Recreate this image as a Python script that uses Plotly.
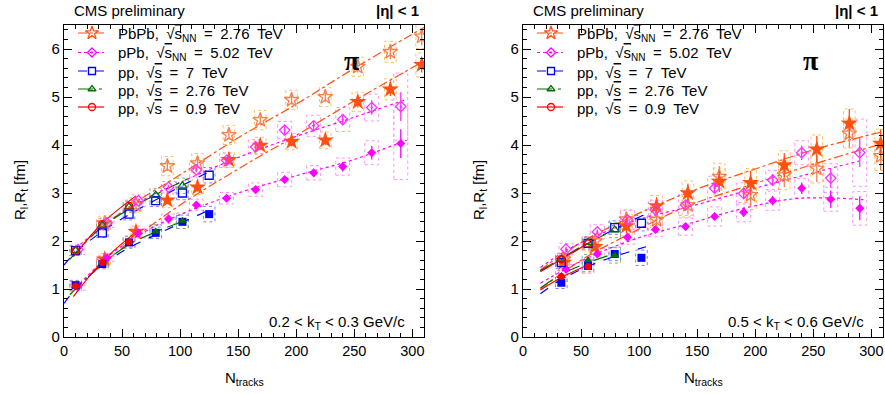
import plotly.graph_objects as go

# ---------------- data ----------------
N_PBPB = [35, 62, 89, 115, 142, 169, 196, 225, 253, 281, 308]
N_PPB_L = [12, 37, 64, 90, 114, 140, 165, 190, 215, 240, 265, 290]
N_PPB_R = [37, 64, 90, 114, 140, 165, 190, 215, 240, 265, 290]
N_PP7_L = [10, 33, 56, 79, 102, 125]
N_PP276_L = [10, 33, 56, 79, 102]
N_PP09_L = [10, 33, 56]
N_PP7_R = [33, 56, 79, 102]
N_PP276_R = [33, 56, 79]
N_PP09_R = [33, 56]

# left panel: 0.2 < kT < 0.3 GeV/c
L_PBPB_RL = [2.37, 2.75, 3.56, 3.62, 4.21, 4.52, 4.94, 5.00, 5.63, 5.94, 6.26]
L_PBPB_RT = [1.62, 2.19, 2.85, 3.12, 3.69, 3.99, 4.07, 4.10, 4.90, 5.16, 5.67]
L_PBPB_RL_STAT = [0.08, 0.08, 0.10, 0.10, 0.10, 0.10, 0.10, 0.10, 0.12, 0.15, 0.18]
L_PBPB_RT_STAT = [0.06, 0.07, 0.08, 0.09, 0.09, 0.10, 0.10, 0.10, 0.12, 0.14, 0.16]
L_PBPB_RL_SYS = [0.15, 0.15, 0.20, 0.20, 0.20, 0.20, 0.20, 0.20, 0.20, 0.22, 0.25]
L_PBPB_RT_SYS = [0.12, 0.12, 0.15, 0.15, 0.15, 0.17, 0.17, 0.17, 0.20, 0.22, 0.25]

L_PPB_RL = [1.82, 2.38, 2.84, 3.12, 3.48, 3.68, 3.96, 4.31, 4.40, 4.53, 4.78, 4.80]
L_PPB_RT = [1.05, 1.65, 2.16, 2.46, 2.75, 2.89, 3.07, 3.28, 3.42, 3.55, 3.84, 4.03]
L_PPB_RL_STAT = [0.03, 0.03, 0.04, 0.05, 0.05, 0.06, 0.06, 0.08, 0.10, 0.12, 0.15, 0.30]
L_PPB_RT_STAT = [0.03, 0.03, 0.04, 0.04, 0.05, 0.05, 0.06, 0.07, 0.08, 0.10, 0.14, 0.30]
L_PPB_RL_SYS = [0.10, 0.10, 0.12, 0.12, 0.15, 0.15, 0.15, 0.18, 0.22, 0.25, 0.28, 0.70]
L_PPB_RT_SYS = [0.08, 0.08, 0.10, 0.10, 0.12, 0.12, 0.14, 0.15, 0.15, 0.18, 0.25, 0.75]

L_PP7_RL = [1.80, 2.17, 2.56, 2.84, 3.00, 3.37]
L_PP7_RT = [1.08, 1.52, 1.97, 2.17, 2.40, 2.56]
L_PP7_SYS = [0.10, 0.10, 0.12, 0.12, 0.14, 0.16]
L_PP276_RL = [1.80, 2.33, 2.71, 2.95, 3.15]
L_PP276_RT = [1.06, 1.55, 1.98, 2.20, 2.42]
L_PP276_SYS = [0.10, 0.10, 0.12, 0.14, 0.16]
L_PP09_RL = [1.80, 2.35, 2.73]
L_PP09_RT = [1.06, 1.55, 1.98]
L_PP09_SYS = [0.10, 0.12, 0.12]

# right panel: 0.5 < kT < 0.6 GeV/c
R_PBPB_RL = [1.62, 2.00, 2.45, 2.44, 2.75, 3.34, 2.96, 3.37, 3.51, 4.24, 3.77]
R_PBPB_RT = [1.55, 1.88, 2.31, 2.73, 3.00, 3.24, 3.21, 3.58, 3.91, 4.45, 4.03]
R_PBPB_RL_STAT = [0.08, 0.10, 0.15, 0.18, 0.20, 0.22, 0.25, 0.25, 0.28, 0.30, 0.30]
R_PBPB_RT_STAT = [0.08, 0.10, 0.15, 0.18, 0.20, 0.22, 0.25, 0.25, 0.28, 0.30, 0.30]
R_PBPB_RL_SYS = [0.12, 0.15, 0.20, 0.22, 0.25, 0.28, 0.30, 0.30, 0.30, 0.30, 0.30]
R_PBPB_RT_SYS = [0.12, 0.15, 0.20, 0.22, 0.25, 0.28, 0.30, 0.30, 0.30, 0.30, 0.30]

R_PPB_RL = [1.83, 2.19, 2.44, 2.65, 2.75, 3.10, 2.99, 3.27, 3.84, 3.31, 3.84]
R_PPB_RT = [1.41, 1.73, 2.08, 2.24, 2.30, 2.51, 2.60, 2.84, 3.10, 2.87, 2.68]
R_PPB_RL_STAT = [0.05, 0.05, 0.06, 0.07, 0.08, 0.10, 0.12, 0.12, 0.15, 0.20, 0.30]
R_PPB_RT_STAT = [0.04, 0.05, 0.06, 0.06, 0.07, 0.08, 0.10, 0.10, 0.12, 0.18, 0.25]
R_PPB_RL_SYS = [0.12, 0.15, 0.20, 0.20, 0.22, 0.25, 0.22, 0.20, 0.25, 0.30, 0.70]
R_PPB_RT_SYS = [0.10, 0.12, 0.15, 0.15, 0.18, 0.20, 0.20, 0.20, 0.20, 0.25, 0.35]

R_PP7_RL = [1.55, 1.95, 2.28, 2.37]
R_PP7_RT = [1.13, 1.48, 1.73, 1.65]
R_PP7_SYS = [0.12, 0.12, 0.14, 0.16]
R_PP276_RL = [1.62, 1.97, 2.23]
R_PP276_RT = [1.27, 1.60, 1.70]
R_PP276_SYS = [0.12, 0.12, 0.16]
R_PP09_RL = [1.62, 1.95]
R_PP09_RT = [1.26, 1.47]
R_PP09_SYS = [0.12, 0.14]

# fit curves (N, R)
L_FIT_PBPB_L = ([30, 60, 100, 150, 200, 250, 310], [2.25, 2.78, 3.38, 4.15, 4.85, 5.60, 6.45])
L_FIT_PBPB_T = ([25, 60, 100, 150, 200, 250, 310], [1.35, 2.05, 2.75, 3.50, 4.20, 4.92, 5.75])
L_FIT_PPB_L = ([10, 40, 70, 100, 150, 200, 250, 295], [1.85, 2.42, 2.88, 3.22, 3.74, 4.18, 4.58, 4.95])
L_FIT_PPB_T = ([10, 40, 70, 100, 150, 200, 250, 295], [1.02, 1.72, 2.20, 2.55, 3.00, 3.36, 3.70, 4.10])
L_FIT_PP7_L = ([0, 10, 33, 56, 80, 103, 128], [1.50, 1.76, 2.20, 2.55, 2.87, 3.17, 3.48])
L_FIT_PP7_T = ([0, 10, 33, 56, 80, 103, 123], [0.70, 1.00, 1.50, 1.86, 2.14, 2.40, 2.62])
L_FIT_PP276_L = ([5, 33, 56, 80, 107], [1.62, 2.30, 2.66, 2.98, 3.30])
L_FIT_PP276_T = ([5, 33, 56, 80, 107], [0.88, 1.52, 1.93, 2.20, 2.45])
L_FIT_PP09_L = ([8, 33, 62], [1.67, 2.37, 2.94])
L_FIT_PP09_T = ([8, 33, 62], [0.84, 1.57, 2.19])

R_FIT_PBPB_L = ([15, 50, 100, 144, 200, 250, 310], [1.40, 1.97, 2.58, 3.03, 3.50, 3.90, 4.28])
R_FIT_PBPB_T = ([15, 50, 100, 144, 200, 250, 310], [1.00, 1.60, 2.25, 2.75, 3.20, 3.60, 4.03])
R_FIT_PPB_L = ([15, 37, 64, 100, 144, 200, 250, 290], [1.45, 1.80, 2.12, 2.45, 2.72, 3.10, 3.42, 3.67])
R_FIT_PPB_T = ([15, 37, 64, 100, 144, 190, 230, 260, 293], [1.12, 1.42, 1.74, 2.07, 2.37, 2.68, 2.87, 2.90, 2.86])
R_FIT_PP7_L = ([15, 33, 56, 79, 109], [1.38, 1.62, 1.95, 2.25, 2.60])
R_FIT_PP7_T = ([15, 33, 56, 79, 106], [0.90, 1.20, 1.47, 1.68, 1.88])
R_FIT_PP276_L = ([15, 33, 56, 85], [1.38, 1.64, 1.96, 2.30])
R_FIT_PP276_T = ([15, 33, 56, 85], [1.02, 1.30, 1.55, 1.78])
R_FIT_PP09_L = ([15, 33, 58], [1.36, 1.62, 1.98])
R_FIT_PP09_T = ([15, 33, 58], [0.98, 1.24, 1.52])

SP = "\u2002"  # en space (ROOT-like wide spacing)
OVS = "√<span style='text-decoration:overline'>s</span>"
SUBNN = "<sub><span style='font-size:10px'>NN</span></sub>"
LEGEND_NAMES = [
    f"PbPb,{SP}{OVS}{SUBNN}{SP}={SP}2.76{SP}TeV",
    f"pPb,{SP}{OVS}{SUBNN}{SP}={SP}5.02{SP}TeV",
    f"pp,{SP}{OVS}{SP}={SP}7{SP}TeV",
    f"pp,{SP}{OVS}{SP}={SP}2.76{SP}TeV",
    f"pp,{SP}{OVS}{SP}={SP}0.9{SP}TeV",
]
KT_LABELS = ["0.2 < k<sub>T</sub> < 0.3 GeV/c", "0.5 < k<sub>T</sub> < 0.6 GeV/c"]

# ---------------- styles ----------------
FONT = "Liberation Sans, Arial, sans-serif"
STY = {
    "PbPb": dict(c="#ff5010", co="#f5804a", box="#ffc060", dash="dashdot", so="star-open", sf="star", sz=11, lsz=10, hw=5),
    "pPb": dict(c="#ff00ff", co="#ff30ff", box="#ff90ff", dash="dot", so="diamond-open-dot", sf="diamond", sz=8, lsz=7, hw=6),
    "pp7": dict(c="#0000ff", co="#0000ff", box="#7f7fff", dash="dash", so="square-open", sf="square", sz=8, lsz=7, hw=5),
    "pp276": dict(c="#007000", co="#007000", box="#80b080", dash="longdashdot", so="triangle-up-open", sf="triangle-up", sz=8, lsz=7, hw=5),
    "pp09": dict(c="#ff0000", co="#ff0000", box="#ff9090", dash="solid", so="circle-open", sf="circle", sz=7, lsz=7, hw=5),
}
ORDER = ["PbPb", "pPb", "pp7", "pp276", "pp09"]

PANELS = [
    dict(xa="x", ya="y", series={
        "PbPb": (N_PBPB, L_PBPB_RL, L_PBPB_RL_STAT, L_PBPB_RL_SYS, L_PBPB_RT, L_PBPB_RT_STAT, L_PBPB_RT_SYS, L_FIT_PBPB_L, L_FIT_PBPB_T),
        "pPb": (N_PPB_L, L_PPB_RL, L_PPB_RL_STAT, L_PPB_RL_SYS, L_PPB_RT, L_PPB_RT_STAT, L_PPB_RT_SYS, L_FIT_PPB_L, L_FIT_PPB_T),
        "pp7": (N_PP7_L, L_PP7_RL, None, L_PP7_SYS, L_PP7_RT, None, L_PP7_SYS, L_FIT_PP7_L, L_FIT_PP7_T),
        "pp276": (N_PP276_L, L_PP276_RL, None, L_PP276_SYS, L_PP276_RT, None, L_PP276_SYS, L_FIT_PP276_L, L_FIT_PP276_T),
        "pp09": (N_PP09_L, L_PP09_RL, None, L_PP09_SYS, L_PP09_RT, None, L_PP09_SYS, L_FIT_PP09_L, L_FIT_PP09_T),
    }),
    dict(xa="x2", ya="y2", series={
        "PbPb": (N_PBPB, R_PBPB_RL, R_PBPB_RL_STAT, R_PBPB_RL_SYS, R_PBPB_RT, R_PBPB_RT_STAT, R_PBPB_RT_SYS, R_FIT_PBPB_L, R_FIT_PBPB_T),
        "pPb": (N_PPB_R, R_PPB_RL, R_PPB_RL_STAT, R_PPB_RL_SYS, R_PPB_RT, R_PPB_RT_STAT, R_PPB_RT_SYS, R_FIT_PPB_L, R_FIT_PPB_T),
        "pp7": (N_PP7_R, R_PP7_RL, None, R_PP7_SYS, R_PP7_RT, None, R_PP7_SYS, R_FIT_PP7_L, R_FIT_PP7_T),
        "pp276": (N_PP276_R, R_PP276_RL, None, R_PP276_SYS, R_PP276_RT, None, R_PP276_SYS, R_FIT_PP276_L, R_FIT_PP276_T),
        "pp09": (N_PP09_R, R_PP09_RL, None, R_PP09_SYS, R_PP09_RT, None, R_PP09_SYS, R_FIT_PP09_L, R_FIT_PP09_T),
    }),
]

# ---------------- layout geometry (pixels) ----------------
W, H = 885, 394
L, R, T, B = 64, 2, 25, 57
PW = W - L - R
PH = H - T - B
PANEL_PX = ((64, 424), (523, 883))
LEG_ROWS_Y = [33, 52.5, 71, 89, 107]


def px(xpix):
    return (xpix - L) / PW


def py(ypix):
    return (H - B - ypix) / PH


fig = go.Figure()
shapes = []
ann = []

for pi, p in enumerate(PANELS):
    xa, ya = p["xa"], p["ya"]
    # systematic boxes
    for k in ORDER:
        s = STY[k]
        n, rl, rls, rlsys, rt, rts, rtsys, fl, ft = p["series"][k]
        for vals, sys in ((rl, rlsys), (rt, rtsys)):
            for xi, yi, ei in zip(n, vals, sys):
                shapes.append(dict(type="rect", xref=xa, yref=ya, x0=xi - s["hw"], x1=xi + s["hw"],
                                   y0=yi - ei, y1=yi + ei, layer="below",
                                   line=dict(color=s["box"], width=1, dash="dot")))
    # fit lines
    for k in ORDER:
        s = STY[k]
        n, rl, rls, rlsys, rt, rts, rtsys, fl, ft = p["series"][k]
        for fx, fy in (fl, ft):
            fig.add_trace(go.Scatter(x=fx, y=fy, mode="lines",
                                     line=dict(color=s["c"], dash=s["dash"], width=1.2, shape="spline"),
                                     xaxis=xa, yaxis=ya, showlegend=False, hoverinfo="skip"))
    # markers
    for k in ORDER:
        s = STY[k]
        n, rl, rls, rlsys, rt, rts, rtsys, fl, ft = p["series"][k]
        fig.add_trace(go.Scatter(
            x=n, y=rl, mode="markers", showlegend=False, xaxis=xa, yaxis=ya,
            marker=dict(symbol=s["so"], color=s["co"], size=s["sz"], line=dict(width=1.3, color=s["co"])),
            error_y=dict(type="data", array=rls, color=s["co"], thickness=1.3, width=0) if rls else None))
        fig.add_trace(go.Scatter(
            x=n, y=rt, mode="markers", showlegend=False, xaxis=xa, yaxis=ya,
            marker=dict(symbol=s["sf"], color=s["c"], size=s["sz"] + (2 if k == "PbPb" else 0) - (1 if k == "pPb" else 0),
                        line=dict(width=0)),
            error_y=dict(type="data", array=rts, color=s["c"], thickness=1.3, width=0) if rts else None))

    # custom legend (pixel overlay axis x3/y3)
    x0, x1 = PANEL_PX[pi]
    for k, name, yrow in zip(ORDER, LEGEND_NAMES, LEG_ROWS_Y):
        s = STY[k]
        fig.add_trace(go.Scatter(x=[x0 + 14, x0 + 40], y=[yrow, yrow], mode="lines",
                                 line=dict(color=s["c"], dash=s["dash"], width=1.2),
                                 xaxis="x3", yaxis="y3", showlegend=False, hoverinfo="skip", cliponaxis=False))
        fig.add_trace(go.Scatter(x=[x0 + 28], y=[yrow], mode="markers",
                                 marker=dict(symbol=s["so"], color=s["c"], size=s["lsz"], line=dict(width=1.3, color=s["c"])),
                                 xaxis="x3", yaxis="y3", showlegend=False, hoverinfo="skip", cliponaxis=False))
        ann.append(dict(text=name, xref="paper", yref="paper", x=px(x0 + 52), y=py(yrow + 1),
                        xanchor="left", yanchor="middle", showarrow=False,
                        font=dict(family=FONT, size=15, color="black")))

axis_common = dict(range=[0, 310], showline=True, linecolor="black", linewidth=1.2, mirror="ticks",
                   ticks="inside", ticklen=8, tickcolor="black", dtick=50, tick0=0,
                   minor=dict(ticks="inside", ticklen=4, dtick=10, tickcolor="black"),
                   showgrid=False, zeroline=False, ticklabeloverflow="allow",
                   tickfont=dict(family=FONT, size=14.5, color="black"))
yaxis_common = dict(range=[0, 6.5], showline=True, linecolor="black", linewidth=1.2, mirror="ticks",
                    ticks="inside", ticklen=8, tickcolor="black", dtick=1, tick0=0,
                    minor=dict(ticks="inside", ticklen=4, dtick=0.2, tickcolor="black"),
                    showgrid=False, zeroline=False, tickfont=dict(family=FONT, size=15, color="black"))

xa1 = dict(axis_common); xa1.update(domain=[0, px(PANEL_PX[0][1])], anchor="y")
xa2 = dict(axis_common); xa2.update(domain=[px(PANEL_PX[1][0]), 1.0], anchor="y2")
ya1 = dict(yaxis_common); ya1.update(domain=[0, 1], anchor="x")
ya2 = dict(yaxis_common); ya2.update(domain=[0, 1], anchor="x2")
xa3 = dict(domain=[0, 1], range=[L, W - R], visible=False, anchor="y3", fixedrange=True)
ya3 = dict(domain=[0, 1], range=[H - B, T], visible=False, anchor="x3", fixedrange=True)

for i, (x0, x1) in enumerate(PANEL_PX):
    xr = "x" if i == 0 else "x2"
    ann.append(dict(text="CMS preliminary", xref="paper", yref="paper", x=px(x0 + 8), y=py(11),
                    xanchor="left", yanchor="middle", showarrow=False, font=dict(family=FONT, size=15, color="black")))
    ann.append(dict(text="<b>|η| < 1</b>", xref="paper", yref="paper", x=px(x1 - 3), y=py(11),
                    xanchor="right", yanchor="middle", showarrow=False, font=dict(family=FONT, size=15, color="black")))
    ann.append(dict(text=KT_LABELS[i], xref="paper", yref="paper", x=px(x1 - 17), y=py(322),
                    xanchor="right", yanchor="middle", showarrow=False, font=dict(family=FONT, size=15, color="black")))
    ann.append(dict(text="<b>π</b>", xref=xr, yref="y" if i == 0 else "y2", x=248, y=5.77,
                    xanchor="center", yanchor="middle", showarrow=False,
                    font=dict(family="Liberation Serif, DejaVu Serif, serif", size=28, color="black")))
    ann.append(dict(text="N<sub>tracks</sub>", xref="paper", yref="paper", x=px((x0 + x1) / 2), y=py(378),
                    xanchor="center", yanchor="middle", showarrow=False, font=dict(family=FONT, size=15, color="black")))
    ann.append(dict(text="R<sub>l</sub>,R<sub>t</sub> [fm]", xref="paper", yref="paper", x=px(x0 - 44), y=py(190),
                    xanchor="center", yanchor="middle", textangle=-90, showarrow=False,
                    font=dict(family=FONT, size=15, color="black")))

fig.update_layout(
    width=W, height=H, margin=dict(l=L, r=R, t=T, b=B, pad=0),
    paper_bgcolor="white", plot_bgcolor="rgba(0,0,0,0)",
    xaxis=xa1, xaxis2=xa2, yaxis=ya1, yaxis2=ya2, xaxis3=xa3, yaxis3=ya3,
    shapes=shapes, annotations=ann, showlegend=False,
    font=dict(family=FONT, color="black"),
)

fig.write_html("out.html")
